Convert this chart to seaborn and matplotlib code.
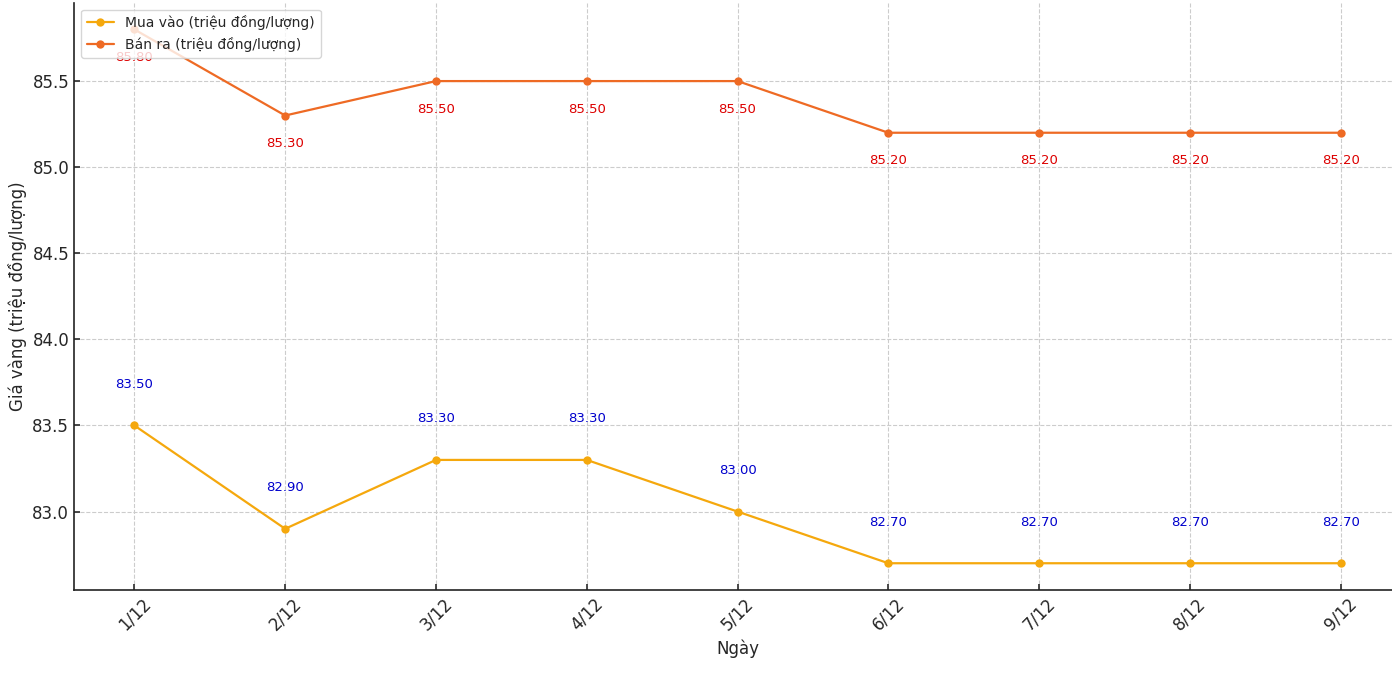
import matplotlib
matplotlib.use("Agg")
import matplotlib.pyplot as plt
import seaborn as sns
import pandas as pd

days = ["1/12", "2/12", "3/12", "4/12", "5/12", "6/12", "7/12", "8/12", "9/12"]
mua_vao = [83.5, 82.9, 83.3, 83.3, 83.0, 82.7, 82.7, 82.7, 82.7]
ban_ra = [85.8, 85.3, 85.5, 85.5, 85.5, 85.2, 85.2, 85.2, 85.2]
label_mua = "Mua vào (triệu đồng/lượng)"
label_ban = "Bán ra (triệu đồng/lượng)"

sns.set_theme(style="ticks")
plt.rcParams['font.family'] = ['DejaVu Sans']

fig, ax = plt.subplots(figsize=(13.92, 6.82), dpi=100)
fig.subplots_adjust(left=0.0532, right=1.0065, top=0.996, bottom=0.135)

x = list(range(len(days)))
df = pd.DataFrame({"x": x, "mua": mua_vao, "ban": ban_ra})

sns.lineplot(data=df, x="x", y="mua", ax=ax, color="#F5A80D", marker="o",
             markersize=6, markeredgewidth=0, linewidth=1.6, label=label_mua)
sns.lineplot(data=df, x="x", y="ban", ax=ax, color="#EE6A24", marker="o",
             markersize=6, markeredgewidth=0, linewidth=1.6, label=label_ban)

for xi, v in zip(x, mua_vao):
    ax.text(xi, v + 0.2, f"{v:.2f}", color="#0000CC", fontsize=9.5, ha="center", va="bottom")
for xi, v in zip(x, ban_ra):
    ax.text(xi, v - 0.2, f"{v:.2f}", color="#DD0000", fontsize=9.5, ha="center", va="bottom")

ax.set_xticks(x)
ax.set_xticklabels(days, rotation=45, fontsize=12)
ax.tick_params(axis="y", labelsize=12)
ax.tick_params(direction="in", length=4, color="#333333")
ax.set_xlabel("Ngày", fontsize=12)
ax.set_ylabel("Giá vàng (triệu đồng/lượng)", fontsize=12)
ax.grid(True, linestyle="--", color="#CCCCCC", linewidth=0.8)
ax.margins(x=0.05, y=0.05)
for s in ["top", "right"]:
    ax.spines[s].set_visible(False)
for s in ["left", "bottom"]:
    ax.spines[s].set_color("#222222")
    ax.spines[s].set_linewidth(1.2)
ax.legend(loc="upper left", fontsize=10, frameon=True)

fig.savefig("out.png", dpi=100)
